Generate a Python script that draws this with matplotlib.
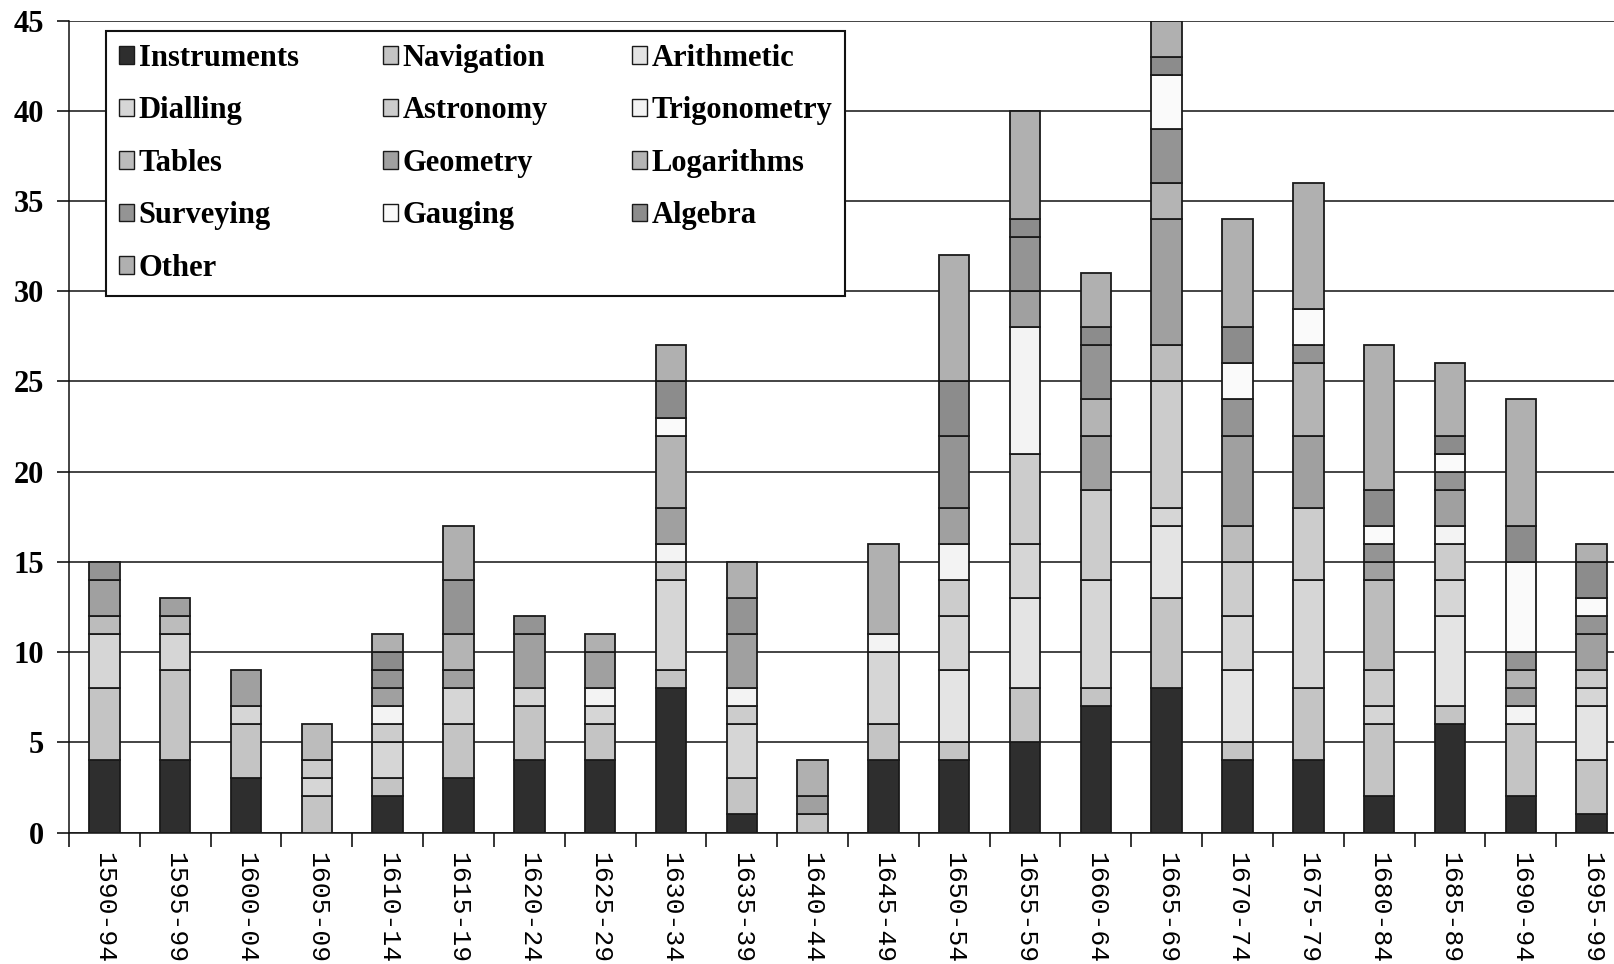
import numpy as np
import matplotlib
matplotlib.use('Agg')
import matplotlib.pyplot as plt
from matplotlib.patches import Patch
from matplotlib.ticker import FixedLocator, NullFormatter

# five-year periods on the x axis
periods = ['1590-94', '1595-99', '1600-04', '1605-09', '1610-14', '1615-19',
           '1620-24', '1625-29', '1630-34', '1635-39', '1640-44', '1645-49',
           '1650-54', '1655-59', '1660-64', '1665-69', '1670-74', '1675-79',
           '1680-84', '1685-89', '1690-94', '1695-99']

# number of titles per subject, stacked bottom to top in this order
instruments = [4, 4, 3, 0, 2, 3, 4, 4, 8, 1, 0, 4, 4, 5, 7, 8, 4, 4, 2, 6, 2, 1]
navigation = [4, 5, 3, 2, 1, 3, 3, 2, 1, 2, 1, 2, 1, 3, 1, 5, 1, 4, 4, 1, 4, 3]
arithmetic = [0, 0, 0, 0, 0, 0, 0, 0, 0, 0, 0, 0, 4, 5, 0, 4, 4, 0, 0, 5, 0, 3]
dialling = [3, 2, 1, 1, 2, 2, 1, 1, 5, 3, 0, 4, 3, 3, 6, 1, 3, 6, 1, 2, 0, 1]
astronomy = [0, 0, 0, 1, 1, 0, 0, 0, 1, 1, 0, 0, 2, 5, 5, 7, 3, 4, 2, 2, 0, 1]
trigonometry = [0, 0, 0, 0, 1, 0, 0, 1, 1, 1, 0, 1, 2, 7, 0, 0, 0, 0, 0, 1, 1, 0]
tables = [1, 1, 0, 2, 0, 0, 0, 0, 0, 0, 0, 0, 0, 0, 0, 2, 2, 0, 5, 0, 0, 0]
geometry = [2, 1, 2, 0, 1, 1, 3, 2, 2, 3, 1, 0, 2, 2, 3, 7, 5, 4, 1, 2, 1, 2]
logarithms = [0, 0, 0, 0, 0, 2, 0, 0, 4, 0, 0, 0, 0, 0, 2, 2, 0, 4, 0, 0, 1, 0]
surveying = [1, 0, 0, 0, 1, 3, 1, 0, 0, 2, 0, 0, 4, 3, 3, 3, 2, 1, 1, 1, 1, 1]
gauging = [0, 0, 0, 0, 0, 0, 0, 0, 1, 0, 0, 0, 0, 0, 0, 3, 2, 2, 1, 1, 5, 1]
algebra = [0, 0, 0, 0, 1, 0, 0, 0, 2, 0, 0, 0, 3, 1, 1, 1, 2, 0, 2, 1, 2, 2]
other = [0, 0, 0, 0, 1, 3, 0, 1, 2, 2, 2, 5, 7, 6, 3, 2, 6, 7, 8, 4, 7, 1]

subjects = ['Instruments', 'Navigation', 'Arithmetic', 'Dialling', 'Astronomy',
            'Trigonometry', 'Tables', 'Geometry', 'Logarithms', 'Surveying',
            'Gauging', 'Algebra', 'Other']
series = [instruments, navigation, arithmetic, dialling, astronomy, trigonometry,
          tables, geometry, logarithms, surveying, gauging, algebra, other]
greys = ['#2e2e2e', '#c4c4c4', '#e4e4e4', '#d6d6d6', '#cccccc', '#f3f3f3',
         '#bcbcbc', '#a0a0a0', '#b4b4b4', '#949494', '#fafafa', '#8c8c8c', '#b0b0b0']

fig = plt.figure(figsize=(16.15, 9.64), dpi=100)
ax = fig.add_axes([69 / 1615, 1 - 832.5 / 964, 1 - 69 / 1615, (832.5 - 20.6) / 964])

x = np.arange(len(periods))
bottom = np.zeros(len(periods))
for name, vals, col in zip(subjects, series, greys):
    vals = np.array(vals, dtype=float)
    mask = vals > 0
    ax.bar(x[mask], vals[mask], width=0.43, bottom=bottom[mask], color=col,
           edgecolor='#1a1a1a', linewidth=1.3, zorder=3)
    bottom += vals

ax.set_ylim(0, 45)
ax.set_xlim(-0.5, 21.33)
ax.set_yticks(range(0, 46, 5))
ax.yaxis.grid(True, color='#111111', linewidth=1.1, zorder=0)
ax.set_axisbelow(True)

for s in ['top', 'right']:
    ax.spines[s].set_visible(False)
for s in ['left', 'bottom']:
    ax.spines[s].set_linewidth(1.1)
    ax.spines[s].set_color('#111111')

ax.tick_params(axis='y', length=9, width=1.1, pad=9, labelsize=22)
for lab in ax.get_yticklabels():
    lab.set_fontfamily('Liberation Serif')
    lab.set_fontweight('bold')

# labels under the bars, tick marks between the periods
ax.set_xticks(x)
ax.set_xticklabels(periods, rotation=-90, fontfamily='Liberation Mono',
                   fontsize=19, va='top', ha='center')
ax.tick_params(axis='x', which='major', length=0, pad=14)
ax.xaxis.set_minor_locator(FixedLocator(np.arange(-0.5, 21.6, 1)))
ax.xaxis.set_minor_formatter(NullFormatter())
ax.tick_params(axis='x', which='minor', length=10, width=1.1)

handles = [Patch(facecolor=c, edgecolor='#1a1a1a', linewidth=1.0) for c in greys]
order = [0, 3, 6, 9, 12, 1, 4, 7, 10, 2, 5, 8, 11]
leg = ax.legend([handles[i] for i in order], [subjects[i] for i in order],
                ncol=3, loc='upper left',
                bbox_to_anchor=(106 / 1615, 1 - 31 / 964),
                bbox_transform=fig.transFigure, borderaxespad=0,
                prop={'family': 'Liberation Serif', 'weight': 'bold', 'size': 22},
                handlelength=0.5, handleheight=0.5, handletextpad=0.15,
                labelspacing=0.77, columnspacing=2.75, borderpad=0.42,
                fancybox=False, framealpha=1, edgecolor='#111111')
leg.get_frame().set_linewidth(1.5)
leg.set_zorder(5)

fig.savefig('out.png', dpi=100)
